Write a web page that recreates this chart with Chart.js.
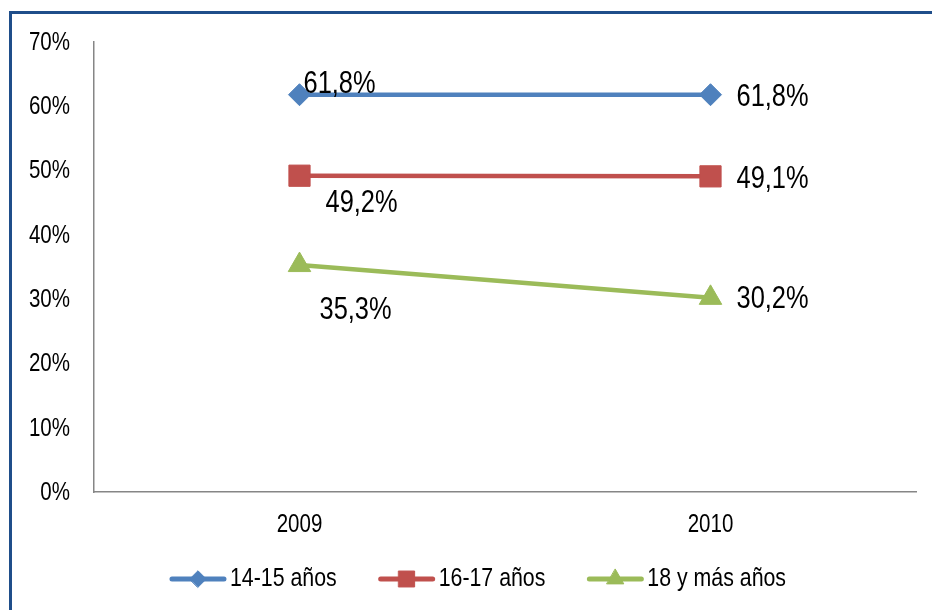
<!DOCTYPE html>
<html>
<head>
<meta charset="utf-8">
<script src="https://cdn.jsdelivr.net/npm/chart.js@4.4.0/dist/chart.umd.min.js"></script>
<style>
  html, body { margin: 0; padding: 0; background: #fff; overflow: hidden; }
  #frame {
    position: absolute; left: 9px; top: 11px; width: 1000px; height: 700px;
    border: 3px solid #1F4E8A; box-sizing: border-box;
  }
  #wrap { position: absolute; left: 0; top: 0; width: 932px; height: 610px; }
</style>
</head>
<body>
<div id="frame"></div>
<div id="wrap"><canvas id="chart" width="932" height="610"></canvas></div>
<script>
// datos
const years = ['2009', '2010'];
const seriesNames = ['14-15 años', '16-17 años', '18 y más años'];
const edad1415 = [61.8, 61.8];
const edad1617 = [49.2, 49.1];
const edad18 = [35.3, 30.2];
const yTicks = [0, 10, 20, 30, 40, 50, 60, 70];

const FONT = "'Liberation Sans', Arial, sans-serif";
const NARROW = 0.82; // el original usa una fuente estrecha
const COLORS = ['#4F81BD', '#C0504D', '#9BBB59'];
const STYLES = ['rectRot', 'rect', 'triangle'];
const RADII = [11, 15, 13];

// desplazamiento de cada etiqueta respecto al punto (dx, dy de la linea base)
const LABEL_OFFSETS = [
  [[4, -2], [26, 11]],
  [[26, 36], [26, 12]],
  [[20, 54], [26, 10]]
];

function fmt(v) {
  return v.toFixed(1).replace('.', ',') + '%';
}

// texto estrecho: escala horizontal
function narrowText(ctx, text, x, y, align) {
  const w = ctx.measureText(text).width * NARROW;
  let left = x;
  if (align === 'right') left = x - w;
  else if (align === 'center') left = x - w / 2;
  ctx.save();
  ctx.textAlign = 'left';
  ctx.translate(left, y);
  ctx.scale(NARROW, 1);
  ctx.fillText(text, 0, 0);
  ctx.restore();
  return w;
}

function makeDataset(i, values) {
  return {
    label: seriesNames[i],
    data: values,
    borderColor: COLORS[i],
    backgroundColor: COLORS[i],
    borderWidth: 4.5,
    pointStyle: STYLES[i],
    pointRadius: RADII[i],
    pointHoverRadius: RADII[i],
    pointBorderWidth: 1,
    pointBackgroundColor: COLORS[i],
    pointBorderColor: COLORS[i],
    tension: 0,
    fill: false
  };
}

const axisTextPlugin = {
  id: 'axisText',
  afterDraw(chart) {
    const ctx = chart.ctx;
    const xs = chart.scales.x, ys = chart.scales.y;
    ctx.save();
    ctx.font = '25px ' + FONT;
    ctx.fillStyle = '#000';
    ctx.textBaseline = 'middle';
    yTicks.forEach(v => {
      narrowText(ctx, v + '%', ys.right - 24, ys.getPixelForValue(v) + 1, 'right');
    });
    years.forEach((yr, i) => {
      narrowText(ctx, yr, xs.getPixelForValue(i), xs.top + 33, 'center');
    });
    ctx.restore();
  }
};

const labelsPlugin = {
  id: 'valueLabels',
  afterDatasetsDraw(chart) {
    const ctx = chart.ctx;
    ctx.save();
    ctx.font = '31px ' + FONT;
    ctx.fillStyle = '#000';
    ctx.textBaseline = 'alphabetic';
    chart.data.datasets.forEach((ds, i) => {
      const meta = chart.getDatasetMeta(i);
      meta.data.forEach((pt, j) => {
        const off = LABEL_OFFSETS[i][j];
        narrowText(ctx, fmt(ds.data[j]), pt.x + off[0], pt.y + off[1], 'left');
      });
    });
    ctx.restore();
  }
};

const legendPlugin = {
  id: 'lineLegend',
  afterDraw(chart) {
    const ctx = chart.ctx;
    const centerX = 478, y = 579;
    const lineW = 56, gapText = 4, gapItem = 42;
    ctx.save();
    ctx.font = '26px ' + FONT;
    const widths = seriesNames.map(n => ctx.measureText(n).width * NARROW);
    let total = widths.reduce((a, b) => a + b, 0) + seriesNames.length * (lineW + gapText) + gapItem * (seriesNames.length - 1);
    let x = centerX - total / 2;
    seriesNames.forEach((name, i) => {
      ctx.strokeStyle = COLORS[i];
      ctx.fillStyle = COLORS[i];
      ctx.lineWidth = 5;
      ctx.lineCap = 'round';
      ctx.beginPath();
      ctx.moveTo(x + 2, y);
      ctx.lineTo(x + lineW - 2, y);
      ctx.stroke();
      ctx.lineWidth = 1;
      Chart.helpers.drawPoint(ctx, {
        pointStyle: STYLES[i], radius: RADII[i] * 0.75, rotation: 0, borderWidth: 1
      }, x + lineW / 2, y);
      ctx.fillStyle = '#000';
      ctx.textBaseline = 'middle';
      narrowText(ctx, name, x + lineW + gapText, y, 'left');
      x += lineW + gapText + widths[i] + gapItem;
    });
    ctx.restore();
  }
};

new Chart(document.getElementById('chart'), {
  type: 'line',
  data: {
    labels: years,
    datasets: [
      makeDataset(0, edad1415),
      makeDataset(1, edad1617),
      makeDataset(2, edad18)
    ]
  },
  options: {
    responsive: false,
    animation: false,
    events: [],
    layout: { padding: { left: 0, right: 14, top: 42, bottom: 0 } },
    plugins: {
      legend: { display: false },
      tooltip: { enabled: false }
    },
    scales: {
      x: {
        offset: true,
        grid: { display: false, drawTicks: false },
        border: { display: true, color: '#868686', width: 1.5 },
        ticks: { display: false },
        afterFit(scale) { scale.height = 118; }
      },
      y: {
        min: 0,
        max: 70,
        grid: { display: false, drawTicks: false },
        border: { display: true, color: '#868686', width: 1.5 },
        afterBuildTicks(scale) { scale.ticks = yTicks.map(v => ({ value: v })); },
        ticks: { display: false },
        afterFit(scale) { scale.width = 94; }
      }
    }
  },
  plugins: [labelsPlugin, axisTextPlugin, legendPlugin]
});
</script>
</body>
</html>
